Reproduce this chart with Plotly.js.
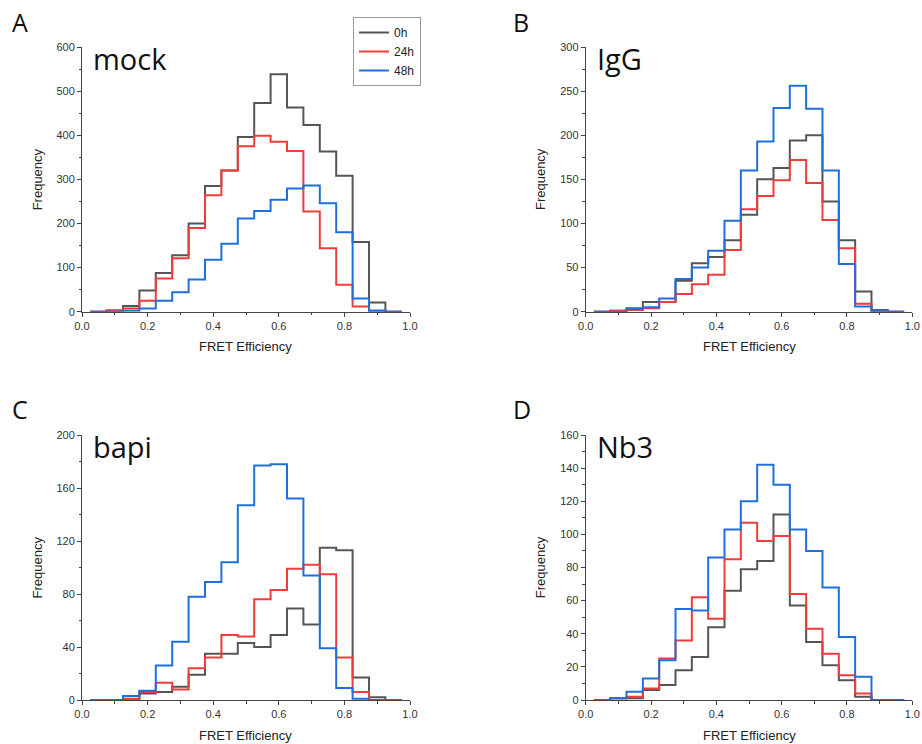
<!DOCTYPE html>
<html>
<head>
<meta charset="utf-8">
<script src="https://cdn.plot.ly/plotly-3.0.1.min.js"></script>
<style>html,body{margin:0;padding:0;background:#fff;}#chart{width:922px;height:744px;}</style>
</head>
<body>
<div id="chart"></div>
<script>
// Bin centers of the FRET efficiency histograms (bin width 0.05)
const binCenters = [0.05,0.10,0.15,0.20,0.25,0.30,0.35,0.40,0.45,0.50,0.55,0.60,0.65,0.70,0.75,0.80,0.85,0.90,0.95];
const binWidth = 0.05;
const seriesNames = ["0h","24h","48h"];
const seriesColors = ["#555555","#f23b3b","#1f6fdc"];

// Panel A: mock
const mock_0h  = [0,3,13,48,88,128,200,285,320,396,473,538,463,423,363,308,158,21,0];
const mock_24h = [0,3,7,25,75,121,190,264,320,375,399,385,364,227,144,61,12,1,0];
const mock_48h = [0,0,2,7,25,44,73,118,154,211,228,254,279,286,246,180,30,3,0];
// Panel B: IgG
const igg_0h  = [0,1,4,11,11,35,55,62,81,110,150,163,194,200,125,81,23,2,0];
const igg_24h = [0,1,2,4,11,20,31,42,70,116,131,149,172,146,104,72,9,0,0];
const igg_48h = [0,0,3,5,15,37,50,69,103,160,193,231,256,230,160,54,6,1,0];
// Panel C: bapi
const bapi_0h  = [0,0,0,5,6,10,19,35,35,43,40,49,69,57,115,113,17,2,0];
const bapi_24h = [0,0,1,6,13,8,24,32,49,48,76,83,99,102,95,32,6,0,0];
const bapi_48h = [0,0,3,7,26,44,78,89,104,147,177,178,152,94,39,9,1,0,0];
// Panel D: Nb3
const nb3_0h  = [0,1,1,6,9,18,26,44,66,79,84,112,57,35,21,12,2,0,0];
const nb3_24h = [0,1,2,7,25,36,62,49,85,107,96,99,64,43,28,15,4,0,0];
const nb3_48h = [0,1,5,13,24,55,54,86,103,120,142,130,103,90,68,38,14,0,0];

const panelNames = ["mock","IgG","bapi","Nb3"];
const panelLetters = ["A","B","C","D"];
const panelData = [
  [mock_0h, mock_24h, mock_48h],
  [igg_0h, igg_24h, igg_48h],
  [bapi_0h, bapi_24h, bapi_48h],
  [nb3_0h, nb3_24h, nb3_48h]
];
const yMax = [600,300,200,160];
const yDtick = [100,50,40,20];
const xTicks = [0.0,0.2,0.4,0.6,0.8,1.0];

const W = 922, H = 744;
// pixel boxes of plotting areas [left,right,top,bottom]
const boxes = [
  [82,410,47,311.7],
  [585.7,912.3,47,311.7],
  [82,410,435,700],
  [585.7,912.3,435,700]
];

function stepXY(vals){
  const xs = binCenters.map(c => c - binWidth/2);
  xs.push(binCenters[binCenters.length-1] + binWidth/2);
  const ys = vals.slice();
  ys.push(vals[vals.length-1]);
  return {x: xs, y: ys};
}

const traces = [];
const layout = {
  width: W, height: H,
  margin: {l:0,r:0,t:0,b:0},
  paper_bgcolor: "#fff", plot_bgcolor: "#fff",
  showlegend: true,
  legend: {
    x: 353/W, y: 1-17/H, xanchor: "left", yanchor: "top",
    bordercolor: "#999", borderwidth: 1, bgcolor: "#fff",
    font: {family: "Liberation Sans, Arial, sans-serif", size: 12, color: "#222"},
    tracegroupgap: 0, itemwidth: 30
  },
  annotations: [],
  font: {family: "Liberation Sans, Arial, sans-serif", size: 11, color: "#333"}
};

for (let p = 0; p < 4; p++){
  const ax = p === 0 ? "" : String(p+1);
  const [l,r,t,b] = boxes[p];
  layout["xaxis"+ax] = {
    domain: [l/W, r/W], anchor: "y"+ax, range: [0,1],
    tickvals: xTicks, ticktext: xTicks.map(v => v.toFixed(1)),
    ticks: "outside", ticklen: 4, tickwidth: 1, tickcolor: "#444",
    minor: {dtick: 0.1, tick0: 0, ticks: "outside", ticklen: 2.5, tickcolor: "#444", showgrid: false},
    showline: true, linecolor: "#444", linewidth: 1,
    showgrid: false, zeroline: false, fixedrange: true,
    tickfont: {family: "Liberation Sans, Arial, sans-serif", size: 11, color: "#333"}
  };
  layout["yaxis"+ax] = {
    domain: [1-b/H, 1-t/H], anchor: "x"+ax, range: [0, yMax[p]],
    dtick: yDtick[p], tick0: 0,
    ticks: "outside", ticklen: 4, tickwidth: 1, tickcolor: "#444",
    minor: {dtick: yDtick[p]/2, tick0: 0, ticks: "outside", ticklen: 2.5, tickcolor: "#444", showgrid: false},
    showline: true, linecolor: "#444", linewidth: 1,
    showgrid: false, zeroline: false, fixedrange: true,
    tickfont: {family: "Liberation Sans, Arial, sans-serif", size: 11, color: "#333"}
  };
  for (let s = 0; s < 3; s++){
    const xy = stepXY(panelData[p][s]);
    traces.push({
      type: "scatter", mode: "lines",
      x: xy.x, y: xy.y,
      xaxis: "x"+ax, yaxis: "y"+ax,
      line: {shape: "hv", color: seriesColors[s], width: 2},
      name: seriesNames[s],
      showlegend: p === 0,
      hoverinfo: "skip"
    });
  }
  // panel name
  layout.annotations.push({
    text: panelNames[p], xref: "paper", yref: "paper",
    x: (l+9)/W, y: 1-(t+11)/H, xanchor: "left", yanchor: "middle",
    showarrow: false, font: {family: "Open Sans, sans-serif", size: 29, color: "#111"}
  });
  // panel letter
  layout.annotations.push({
    text: panelLetters[p], xref: "paper", yref: "paper",
    x: (p % 2 === 0 ? 10 : 511)/W, y: 1-(p < 2 ? 22 : 409)/H, xanchor: "left", yanchor: "middle",
    showarrow: false, font: {family: "Open Sans, sans-serif", size: 25, color: "#111"}
  });
  // x title
  layout.annotations.push({
    text: "FRET Efficiency", xref: "paper", yref: "paper",
    x: ((l+r)/2)/W, y: 1-(b+35)/H, xanchor: "center", yanchor: "middle",
    showarrow: false, font: {family: "Liberation Sans, Arial, sans-serif", size: 13, color: "#222"}
  });
  // y title
  layout.annotations.push({
    text: "Frequency", xref: "paper", yref: "paper",
    x: (l-45)/W, y: 1-((t+b)/2)/H, xanchor: "center", yanchor: "middle", textangle: -90,
    showarrow: false, font: {family: "Liberation Sans, Arial, sans-serif", size: 13, color: "#222"}
  });
}

Plotly.newPlot("chart", traces, layout, {staticPlot: true, displayModeBar: false});
</script>
</body>
</html>
